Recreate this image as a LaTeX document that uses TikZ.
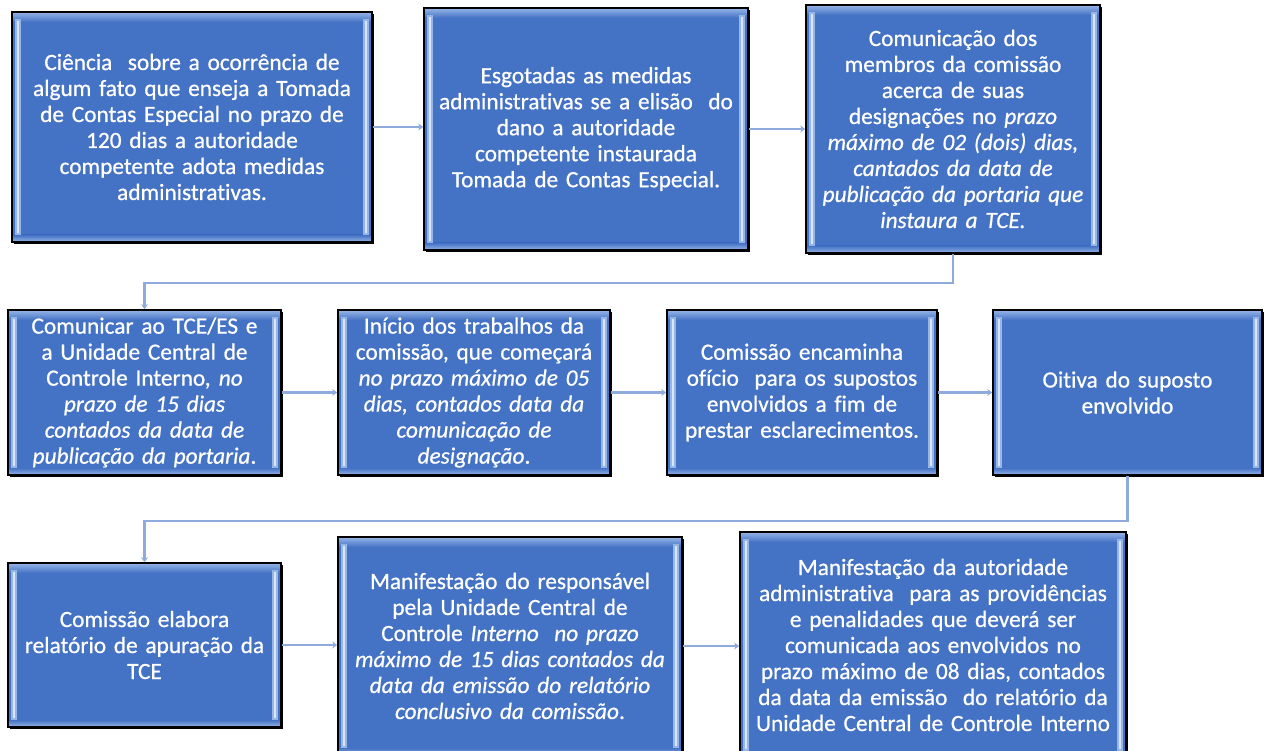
\documentclass[tikz,border=0pt]{standalone}
\usepackage{fontspec}
\setmainfont{Carlito}
\newfontfamily\boxfont{Carlito}[FakeBold=0.7,Ligatures=NoCommon]
\usetikzlibrary{arrows.meta,shadows,calc}
\definecolor{boxblue}{RGB}{68,114,196}
\definecolor{bevl}{RGB}{150,182,232}
\definecolor{arrowc}{RGB}{143,170,220}
\tikzset{
  fbox/.style={fill=boxblue, draw=black, line width=1.6pt, inner sep=0pt,
    text=white, align=center,
    font=\boxfont\fontsize{23.3}{26}\selectfont,
    drop shadow={shadow xshift=1.6pt, shadow yshift=-1.6pt, opacity=1, fill=black},
    path picture={
      \path (path picture bounding box.north west) coordinate (pnw)
            (path picture bounding box.south east) coordinate (pse);
      \shade[top color=bevl, bottom color=boxblue] (pnw) rectangle ([yshift=-10pt]pnw -| pse);
      \shade[top color=boxblue, bottom color=bevl] ([yshift=7pt]pnw |- pse) rectangle (pse);
      \fill[bevl] ([xshift=3pt,yshift=-7pt]pnw) rectangle ([xshift=9pt,yshift=7pt]pnw |- pse);
      \fill[white!65!bevl] ([xshift=5pt,yshift=-9pt]pnw) rectangle ([xshift=7pt,yshift=9pt]pnw |- pse);
      \fill[bevl] ([xshift=-3pt,yshift=-7pt]pse |- pnw) rectangle ([xshift=-9pt,yshift=7pt]pse);
      \fill[white!65!bevl] ([xshift=-5pt,yshift=-9pt]pse |- pnw) rectangle ([xshift=-7pt,yshift=9pt]pse);
    }},
  flowarrow/.style={draw=arrowc, line width=2.4pt, -{Stealth[length=5pt,width=7pt]}}
}
\newcommand\flowbox[6]{%
  \pgfmathsetmacro\bw{#4-#2}%
  \pgfmathsetmacro\bh{#5-#3}%
  \pgfmathsetmacro\tw{#4-#2-4}%
  \node[fbox, minimum width=\bw pt, minimum height=\bh pt, text width=\tw pt] (#1) at ({(#2+#4)/2},{(#3+#5)/2}) {#6};}
\begin{document}
\begin{tikzpicture}[x=1pt,y=-1pt]
\useasboundingbox (0,0) rectangle (1269,751);
\fill[white] (0,0) rectangle (1269,751);
\flowbox{B1}{12}{12}{372}{242}{Ciência\ \ sobre a ocorrência de\\algum fato que enseja a Tomada\\de Contas Especial no prazo de\\120 dias a autoridade\\competente adota medidas\\administrativas.}
\flowbox{B2}{424}{8}{748}{250}{Esgotadas as medidas\\administrativas se a elisão\ \ do\\dano a autoridade\\competente instaurada\\Tomada de Contas Especial.}
\flowbox{B3}{806}{5}{1100}{253}{Comunicação dos\\membros da comissão\\acerca de suas\\designações no \textit{prazo}\\\textit{máximo de 02 (dois) dias,}\\\textit{cantados da data de}\\\textit{publicação da portaria que}\\\textit{instaura a TCE.}}
\flowbox{C1}{8}{310}{281}{475}{Comunicar ao TCE/ES e\\a Unidade Central de\\Controle Interno\textit{, no}\\\textit{prazo de 15 dias}\\\textit{contados da data de}\\\textit{publicação da portaria}.}
\flowbox{C2}{338}{310}{610}{475}{Início dos trabalhos da\\comissão, que começará\\\textit{no prazo máximo de 05}\\\textit{dias, contados data da}\\\textit{comunicação de}\\\textit{designação}.}
\flowbox{C3}{667}{310}{937}{475}{Comissão encaminha\\ofício\ \ para os supostos\\envolvidos a fim de\\prestar esclarecimentos.}
\flowbox{C4}{993}{310}{1262}{475}{Oitiva do suposto\\envolvido}
\flowbox{D1}{8}{563}{281}{727}{Comissão elabora\\relatório de apuração da\\TCE}
\flowbox{D2}{338}{537}{682}{755}{Manifestação do responsável\\pela Unidade Central de\\Controle \textit{Interno\ \ no prazo}\\\textit{máximo de 15 dias contados da}\\\textit{data da emissão do relatório}\\\textit{conclusivo da comissão}.}
\flowbox{D3}{740}{532}{1126}{758}{Manifestação da autoridade\\administrativa\ \ para as providências\\e penalidades que deverá ser\\comunicada aos envolvidos no\\prazo máximo de 08 dias, contados\\da data da emissão\ \ do relatório da\\Unidade Central de Controle Interno}
\draw[flowarrow] (B1.east) -- (B1.east -| B2.west);
\draw[flowarrow] (B2.east) -- (B2.east -| B3.west);
\draw[flowarrow] (B3.south) -- ++(0,29) -| (C1.north);
\draw[flowarrow] (C1.east) -- (C1.east -| C2.west);
\draw[flowarrow] (C2.east) -- (C2.east -| C3.west);
\draw[flowarrow] (C3.east) -- (C3.east -| C4.west);
\draw[flowarrow] (C4.south) -- ++(0,45) -| (D1.north);
\draw[flowarrow] (D1.east) -- (D1.east -| D2.west);
\draw[flowarrow] (D2.east) -- (D2.east -| D3.west);
\end{tikzpicture}
\end{document}
